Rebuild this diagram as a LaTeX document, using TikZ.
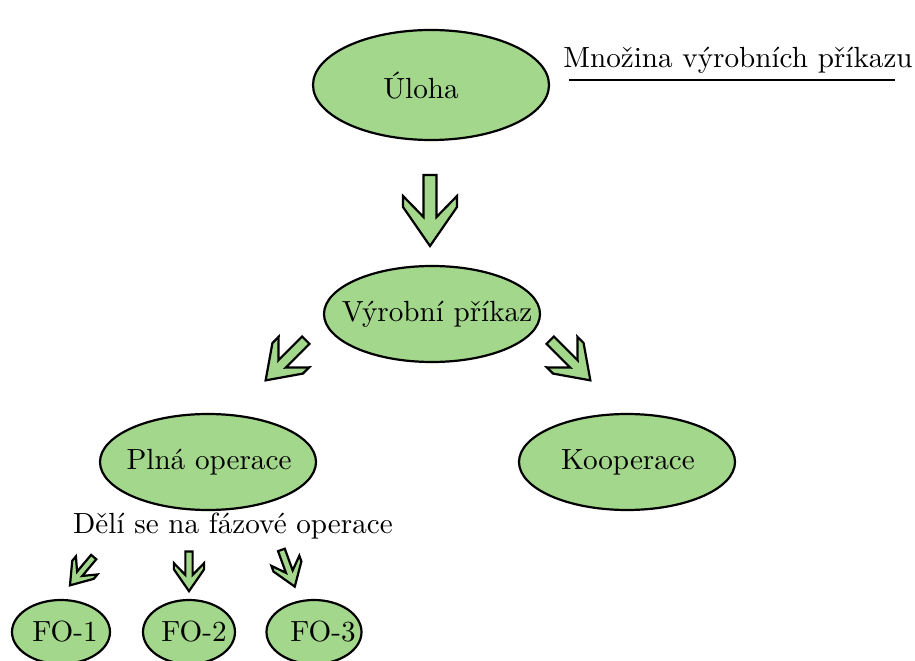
\documentclass[tikz,border=0pt]{standalone}
\usepackage{fontspec}
\usetikzlibrary{shapes.geometric}
\definecolor{nodegreen}{RGB}{163,215,140}
\begin{document}
\begin{tikzpicture}[x=0.3636pt, y=-0.3636pt,
  el/.style={ellipse, draw=black, fill=nodegreen, line width=0.8pt, inner sep=0pt},
  txt/.style={font=\fontsize{10.6}{12.7}\selectfont, inner sep=0pt},
  fatarrow/.pic={\draw[line width=0.8pt, fill=nodegreen, line join=miter]
     (-6.5,-35) -- (6.5,-35) -- (6.5,7) -- (27,-14) -- (27,-3) -- (0,36)
     -- (-27,-3) -- (-27,-14) -- (-6.5,7) -- cycle;}
]
\useasboundingbox (0,0) rectangle (915,661);
% ellipses
\node[el, minimum width=236*0.3636pt, minimum height=110*0.3636pt] (uloha) at (431,85) {};
\node[el, minimum width=216*0.3636pt, minimum height=96*0.3636pt] (vp) at (432,314) {};
\node[el, minimum width=216*0.3636pt, minimum height=96*0.3636pt] (plna) at (208,462) {};
\node[el, minimum width=216*0.3636pt, minimum height=96*0.3636pt] (koop) at (627,462) {};
\node[el, minimum width=98*0.3636pt, minimum height=64*0.3636pt] (fo1) at (61,632) {};
\node[el, minimum width=92*0.3636pt, minimum height=64*0.3636pt] (fo2) at (189,632) {};
\node[el, minimum width=95*0.3636pt, minimum height=64*0.3636pt] (fo3) at (314,632) {};
% texts
\node[txt] (tuloha) at (421,86) {Úloha};
\node[txt] (tvp) at (437,314) {Výrobní příkaz};
\node[txt] (tplna) at (209,462) {Plná operace};
\node[txt] (tkoop) at (628,462) {Kooperace};
\node[txt] (tfo1) at (65,632) {FO-1};
\node[txt] (tfo2) at (194,632) {FO-2};
\node[txt] (tfo3) at (323,632) {FO-3};
\node[txt] (deli) at (233,526) {Dělí se na fázové operace};
\node[txt] (mnozina) at (738,60) {Množina výrobních příkazu};
\coordinate (ulA) at (569,80);
\coordinate (ulB) at (895,80);
\draw[line width=0.8pt] (ulA) -- (ulB);
% arrows
\pic at (430,210) {fatarrow};
\pic[scale=0.8, rotate=-45] at (286,360) {fatarrow};
\pic[scale=0.8, rotate=45] at (570,360) {fatarrow};
\pic[scale=0.52, rotate=-40] at (82,571) {fatarrow};
\pic[scale=0.56] at (189,571) {fatarrow};
\pic[scale=0.55, rotate=20] at (288,568) {fatarrow};
\end{tikzpicture}
\end{document}
